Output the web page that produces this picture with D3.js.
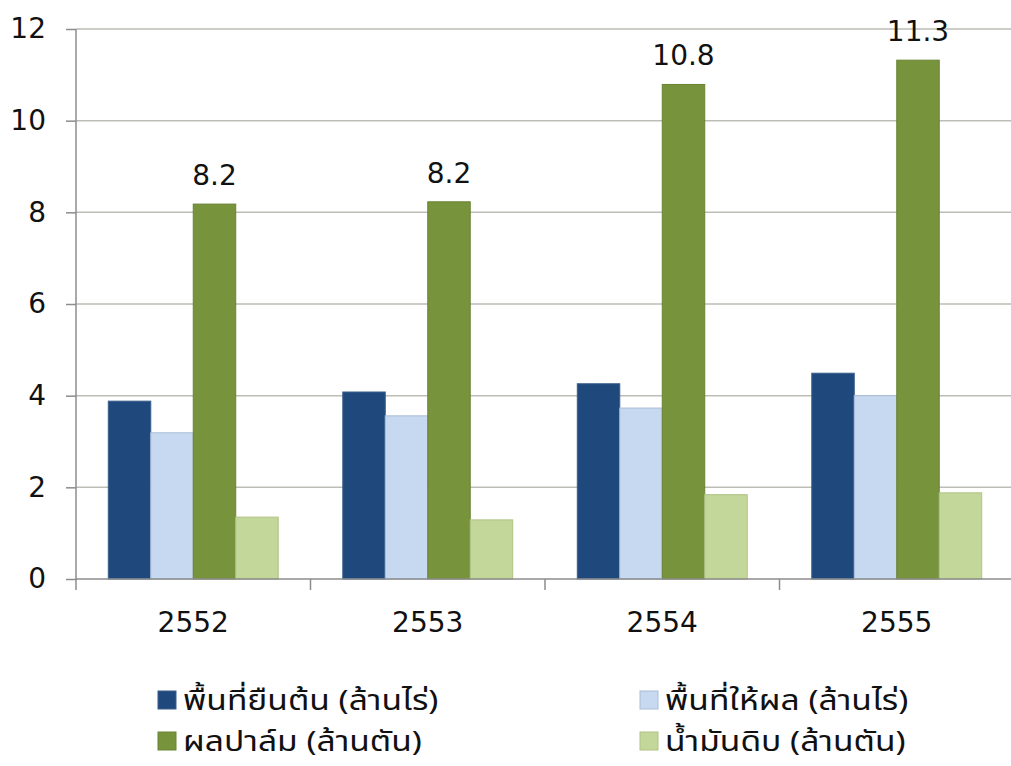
<!DOCTYPE html>
<html>
<head>
<meta charset="utf-8">
<script src="https://cdn.jsdelivr.net/npm/d3@7"></script>
<style>
  body { margin: 0; background: #fff; }
  svg { display: block; }
</style>
</head>
<body>
<svg></svg>
<script>
let years = ['2552', '2553', '2554', '2555']
let seriesNames = ['พื้นที่ยืนต้น (ล้านไร่)', 'พื้นที่ให้ผล (ล้านไร่)', 'ผลปาล์ม (ล้านตัน)', 'น้ำมันดิบ (ล้านตัน)']
let standingArea = [3.88, 4.08, 4.26, 4.49]
let yieldArea = [3.19, 3.56, 3.73, 4.0]
let palmFruit = [8.18, 8.23, 10.79, 11.32]
let crudeOil = [1.35, 1.29, 1.84, 1.88]
let yTicks = [0, 2, 4, 6, 8, 10, 12]

let colors = ['#1F497D', '#C6D9F1', '#77933C', '#C4D79B']
let strokes = ['#3A5E8C', '#A9BCD6', '#6A8435', '#AFC283']

let width = 1011
let height = 766
let plotLeft = 76
let plotRight = 1014
let plotTop = 29
let plotBottom = 579
let numFont = 'Verdana, "DejaVu Sans", sans-serif'

let svg = d3.select('svg').attr('width', width).attr('height', height)

let allSeries = [standingArea, yieldArea, palmFruit, crudeOil]

let xScale = d3.scaleBand().domain(years).range([plotLeft, plotRight]).paddingInner(0).paddingOuter(0)
let innerScale = d3.scaleBand().domain(d3.range(4)).range([0, xScale.bandwidth()]).paddingInner(0).paddingOuter(0.76)
let yScale = d3.scaleLinear().domain([0, 12]).range([plotBottom, plotTop])

// gridlines
svg.append('g')
   .selectAll('line')
   .data(yTicks.slice(1))
   .enter()
   .append('line')
   .attr('x1', plotLeft)
   .attr('x2', width)
   .attr('y1', (d) => yScale(d))
   .attr('y2', (d) => yScale(d))
   .attr('stroke', '#BDBDB6')
   .attr('stroke-width', 1.5)

// bars
years.forEach((yr, i) => {
  svg.append('g')
     .selectAll('rect')
     .data(allSeries.map((s) => s[i]))
     .enter()
     .append('rect')
     .attr('x', (d, j) => xScale(yr) + innerScale(j))
     .attr('y', (d) => yScale(d))
     .attr('width', innerScale.bandwidth())
     .attr('height', (d) => plotBottom - yScale(d))
     .attr('fill', (d, j) => colors[j])
     .attr('stroke', (d, j) => strokes[j])
     .attr('stroke-width', 1)
})

// data labels for palm fruit
svg.append('g')
   .selectAll('text')
   .data(palmFruit)
   .enter()
   .append('text')
   .attr('x', (d, i) => xScale(years[i]) + innerScale(2) + innerScale.bandwidth() / 2)
   .attr('y', (d) => yScale(d) - 19)
   .attr('text-anchor', 'middle')
   .attr('font-family', numFont)
   .attr('font-size', 28)
   .attr('fill', '#111')
   .text((d) => d3.format('.1f')(d))

// y axis
let yAxis = d3.axisLeft(yScale).tickValues(yTicks).tickSize(10).tickPadding(20)
let yg = svg.append('g')
   .attr('transform', 'translate(' + plotLeft + ', 0)')
   .call(yAxis)
yg.selectAll('line, path').attr('stroke', '#8C8C8C').attr('stroke-width', 1.5)
yg.select('path').attr('d', 'M0,' + plotTop + 'V' + plotBottom)
yg.selectAll('text')
  .attr('font-family', numFont)
  .attr('font-size', 28)
  .attr('fill', '#111')

// x axis
let xg = svg.append('g')
   .attr('transform', 'translate(0, ' + plotBottom + ')')
xg.append('line')
  .attr('x1', plotLeft).attr('x2', width)
  .attr('stroke', '#8C8C8C').attr('stroke-width', 1.5)
xg.selectAll('.tk')
  .data(years.concat(['end']))
  .enter()
  .append('line')
  .attr('class', 'tk')
  .attr('x1', (d, i) => plotLeft + i * xScale.bandwidth())
  .attr('x2', (d, i) => plotLeft + i * xScale.bandwidth())
  .attr('y1', 0).attr('y2', 11)
  .attr('stroke', '#8C8C8C').attr('stroke-width', 1.5)
xg.selectAll('.lbl')
  .data(years)
  .enter()
  .append('text')
  .attr('class', 'lbl')
  .attr('x', (d) => xScale(d) + xScale.bandwidth() / 2)
  .attr('y', 53)
  .attr('text-anchor', 'middle')
  .attr('font-family', numFont)
  .attr('font-size', 28)
  .attr('fill', '#111')
  .text((d) => d)

// legend
let legendPos = [[158, 710], [640, 710], [158, 751], [640, 751]]
let legend = svg.append('g')
   .selectAll('g')
   .data(seriesNames)
   .enter()
   .append('g')
   .attr('transform', (d, i) => 'translate(' + legendPos[i][0] + ',' + legendPos[i][1] + ')')
legend.append('rect')
      .attr('x', 0).attr('y', -19)
      .attr('width', 18).attr('height', 18)
      .attr('fill', (d, i) => colors[i])
      .attr('stroke', (d, i) => strokes[i])
legend.append('text')
      .attr('transform', 'translate(25, 0) scale(1.2, 1)')
      .attr('font-family', 'Tahoma, "Noto Sans Thai", "Noto Sans", sans-serif')
      .attr('font-size', 28)
      .attr('fill', '#111')
      .text((d) => d)
</script>
</body>
</html>
